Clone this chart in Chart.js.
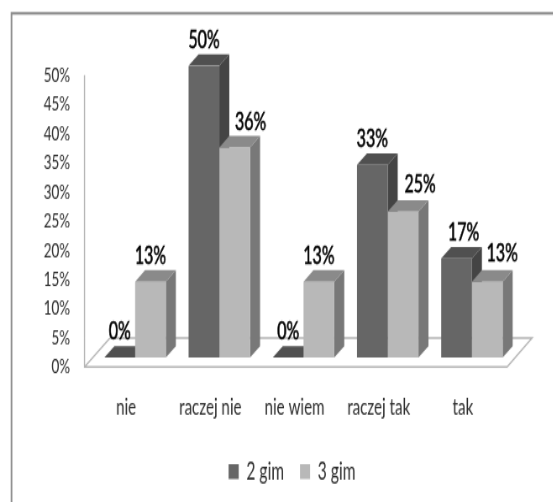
<!DOCTYPE html>
<html>
<head>
<meta charset="utf-8">
<title>raczej nie</title>
<style>
  html { overflow: hidden; }
  html, body { margin: 0; padding: 0; background: #fff; height: 100%; }
  /* the original picture is squeezed and stretched, text included */
  #chart { display: block; transform: scale(0.84, 1.3); transform-origin: 0 0; filter: blur(0.3px); }
</style>
<script src="https://cdn.jsdelivr.net/npm/chart.js@4"></script>
</head>
<body>
<canvas id="chart" width="658" height="386"></canvas>
<script>
const categories = ["nie", "raczej nie", "nie wiem", "raczej tak", "tak"];
const gim2 = [0, 50, 0, 33, 17];
const gim3 = [13, 36, 13, 25, 13];

const FONT = "Lato, 'Liberation Sans', sans-serif";
const SX = 0.84;
const SY = 1.3;
const DEPTH_X = 10 / SX;
const DEPTH_Y = 11.5 / SY;

// frame, floor and back line of the fake 3d box
const box3d = {
  id: "box3d",
  afterLayout(chart) {
    // legend sits right of the middle in the original
    const shift = 35 / SX;
    chart.legend.left += shift;
    chart.legend.right += shift;
  },
  beforeDraw(chart) {
    const { ctx, chartArea: a, scales } = chart;
    const y0 = scales.y.getPixelForValue(0);
    const y50 = scales.y.getPixelForValue(50);
    const front = y0 + 9.3 / SY;
    const back = y0 - 19.7 / SY;

    ctx.save();
    ctx.fillStyle = "#fff";
    ctx.fillRect(0, 0, chart.width, chart.height);

    // only the top and left sides of the frame are inside the picture
    ctx.strokeStyle = "#8c8c8c";
    ctx.lineWidth = 2;
    ctx.beginPath();
    ctx.moveTo(11.5 / SX, chart.height);
    ctx.lineTo(11.5 / SX, 13.2 / SY);
    ctx.lineTo(chart.width, 13.2 / SY);
    ctx.stroke();

    ctx.strokeStyle = "#b4b4b4";
    ctx.lineWidth = 1.4;
    ctx.beginPath();
    ctx.moveTo(a.left - 8.5 / SX, y50 + 9.3 / SY);
    ctx.lineTo(a.left - 8.5 / SX, front);
    ctx.lineTo(a.right - 7 / SX, front);
    ctx.lineTo(a.right + 18 / SX, back);
    ctx.lineTo(a.left + 17 / SX, back);
    ctx.lineTo(a.left - 8.5 / SX, front);
    ctx.stroke();
    ctx.restore();
  },
  // side and top faces go first, the flat fronts are painted over them
  beforeDatasetsDraw(chart) {
    const { ctx } = chart;
    ctx.save();
    chart.data.datasets.forEach((ds, i) => {
      chart.getDatasetMeta(i).data.forEach((bar) => {
        const { x, y, base, width } = bar.getProps(["x", "y", "base", "width"], true);
        const l = x - width / 2;
        const r = x + width / 2;
        ctx.fillStyle = ds.sideColor;
        ctx.beginPath();
        ctx.moveTo(r, y);
        ctx.lineTo(r + DEPTH_X, y - DEPTH_Y);
        ctx.lineTo(r + DEPTH_X, base - DEPTH_Y);
        ctx.lineTo(r, base);
        ctx.closePath();
        ctx.fill();
        ctx.fillStyle = ds.topColor;
        ctx.beginPath();
        ctx.moveTo(l, y);
        ctx.lineTo(l + DEPTH_X, y - DEPTH_Y);
        ctx.lineTo(r + DEPTH_X, y - DEPTH_Y);
        ctx.lineTo(r, y);
        ctx.closePath();
        ctx.fill();
      });
    });
    ctx.restore();
  },
  afterDatasetsDraw(chart) {
    const { ctx } = chart;
    ctx.save();
    ctx.font = "19px " + FONT;
    ctx.textAlign = "center";
    ctx.textBaseline = "alphabetic";
    ctx.fillStyle = "#000";
    ctx.strokeStyle = "#000";
    ctx.lineWidth = 0.5;
    chart.data.datasets.forEach((ds, i) => {
      chart.getDatasetMeta(i).data.forEach((bar, j) => {
        const text = ds.data[j] + "%";
        const px = bar.x + ds.labelShift[j] / SX;
        const py = bar.y - (17.7 + ds.labelLift[j]) / SY;
        ctx.fillText(text, px, py);
        ctx.strokeText(text, px, py);
      });
    });
    ctx.restore();
  },
};

new Chart(document.getElementById("chart"), {
  type: "bar",
  data: {
    labels: categories,
    datasets: [
      {
        label: "2 gim",
        data: gim2,
        backgroundColor: "#666666",
        sideColor: "#444444",
        topColor: "#505050",
        labelShift: [0, 0, 0, 0, 7],
        labelLift: [0, 0, 0, 0, 0],
      },
      {
        label: "3 gim",
        data: gim3,
        backgroundColor: "#b8b8b8",
        sideColor: "#787878",
        topColor: "#8a8a8a",
        labelShift: [0, 16, 0, 17, 15],
        labelLift: [0, 0, 0, 1, 3],
      },
    ],
  },
  options: {
    responsive: false,
    animation: false,
    devicePixelRatio: 1,
    layout: {
      padding: { left: 0, right: 46.1, top: 50.5, bottom: 4 },
    },
    datasets: {
      bar: { categoryPercentage: 0.73, barPercentage: 1 },
    },
    scales: {
      x: {
        grid: { display: false, drawTicks: false },
        border: { display: false },
        afterFit: (scale) => { scale.height = 59.4; },
        ticks: {
          font: { family: FONT, size: 18 },
          color: "#2c2c2c",
          labelOffset: -9 / SX,
          padding: 27,
          maxRotation: 0,
          autoSkip: false,
        },
      },
      y: {
        min: 0,
        max: 50,
        grid: { display: false, drawTicks: false },
        border: { display: false },
        afterFit: (scale) => { scale.width = 110.7; },
        ticks: {
          stepSize: 5,
          autoSkip: false,
          font: { family: FONT, size: 16 },
          color: "#2c2c2c",
          padding: 27.4,
          labelOffset: 9.3 / SY,
          callback: (v) => v + "%",
        },
      },
    },
    plugins: {
      tooltip: { enabled: false },
      legend: {
        position: "bottom",
        labels: {
          boxWidth: 12,
          boxHeight: 11.5,
          padding: 19,
          color: "#2c2c2c",
          font: { family: FONT, size: 18.5 },
        },
      },
    },
  },
  plugins: [box3d],
});
</script>
</body>
</html>
